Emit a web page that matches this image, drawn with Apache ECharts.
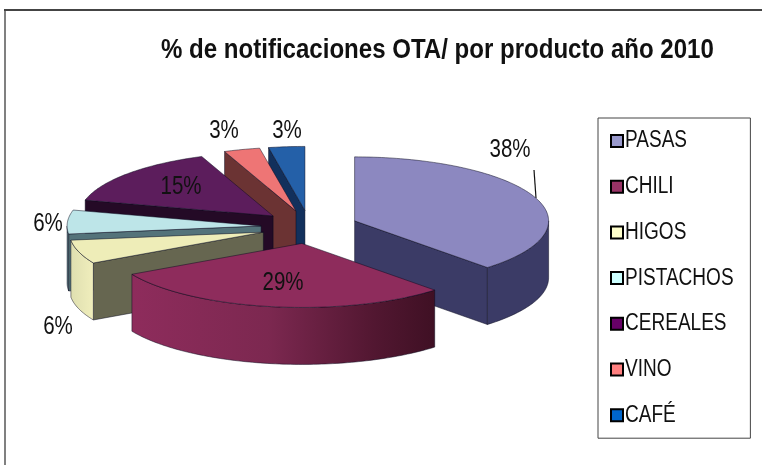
<!DOCTYPE html>
<html>
<head>
<meta charset="utf-8">
<style>
  html, body { margin: 0; padding: 0; background: #fff; }
  #main { width: 762px; height: 465px; }
</style>
</head>
<body>
<div id="main"></div>
<script src="https://cdn.jsdelivr.net/npm/echarts@6/dist/echarts.min.js"></script>
<script>
var titleText = '% de notificaciones OTA/ por producto año 2010';
var categories = ['PASAS', 'CHILI', 'HIGOS', 'PISTACHOS', 'CEREALES', 'VINO', 'CAFÉ'];
var values = [38, 29, 6, 6, 15, 3, 3];

// colores: leyenda, cara superior, paredes
var legendColors = ['#9999cc', '#993366', '#ffffcc', '#ccffff', '#660066', '#ff8080', '#0066cc'];
var topColors = ['#8c88c0', '#8e2c5c', '#eeedb8', '#bde5e8', '#5c1d5c', '#ee7575', '#2460a8'];
var wallColors = ['#3b3b66', '#3f1028', '#666650', '#54737a', '#240a26', '#6b3333', '#12305c'];
var rimStops = [
  [[0, '#3b3b66'], [1, '#3b3b66']],
  [[0, '#8e2c5c'], [0.45, '#7c2850'], [0.8, '#521731'], [1, '#3f1024']],
  [[0, '#dfdfb0'], [1, '#f0eebc']],
  [[0, '#54737a'], [1, '#54737a']],
  [[0, '#240a26'], [1, '#240a26']],
  [[0, '#6b3333'], [1, '#6b3333']],
  [[0, '#12305c'], [1, '#12305c']]
];
// orden de dibujo, de atrás hacia adelante
var drawOrder = [6, 5, 4, 3, 2, 0, 1];
// posición de las etiquetas de %
var labelPos = [[510, 150], [283, 283], [58, 327], [48, 224], [181, 187], [224, 131], [287, 131]];

var cx = 309.5, cy = 227, rx = 194, ry = 64, depth = 57, explodeX = 0.25, explodeY = 0.26;
var total = values.reduce(function (a, b) { return a + b; }, 0);

// no hay Arial Narrow instalada: se angosta la Liberation Sans
var narrow = 0.82;
var fontName = '"Liberation Sans", Arial, sans-serif';

function sliceAngles(i) {
  var s = 0;
  for (var k = 0; k < i; k++) s += values[k];
  return [s / total * Math.PI * 2, (s + values[i]) / total * Math.PI * 2];
}

function pt(c, t, dy) {
  return [c[0] + rx * Math.sin(t), c[1] - ry * Math.cos(t) + (dy || 0)];
}

function arcPoints(c, a, b, dy) {
  var pts = [], n = Math.max(2, Math.ceil((b - a) / 0.02));
  for (var k = 0; k <= n; k++) pts.push(pt(c, a + (b - a) * k / n, dy));
  return pts;
}

function poly(points, fill) {
  return {
    type: 'polygon',
    shape: { points: points },
    style: { fill: fill, stroke: 'rgba(10,10,30,0.7)', lineWidth: 0.7 }
  };
}

function face(c, t, fill) {
  var p = pt(c, t);
  return poly([c, p, [p[0], p[1] + depth], [c[0], c[1] + depth]], fill);
}

function renderSlice(i) {
  var a = sliceAngles(i), s = a[0], e = a[1], mid = (s + e) / 2;
  var c = [cx + rx * explodeX * Math.sin(mid), cy - ry * explodeY * Math.cos(mid)];
  var children = [];
  if (Math.sin(s) < -0.001) children.push(face(c, s, wallColors[i]));
  if (Math.sin(e) > 0.001) children.push(face(c, e, wallColors[i]));
  var r0 = Math.max(s, Math.PI / 2), r1 = Math.min(e, Math.PI * 1.5);
  if (r1 > r0) {
    var upper = arcPoints(c, r0, r1, 0), lower = arcPoints(c, r0, r1, depth).reverse();
    var xs = upper.map(function (p) { return p[0]; });
    children.push(poly(upper.concat(lower), {
      type: 'linear', global: true,
      x: Math.min.apply(null, xs), y: 0, x2: Math.max.apply(null, xs), y2: 0,
      colorStops: rimStops[i].map(function (st) { return { offset: st[0], color: st[1] }; })
    }));
  }
  children.push(poly([c].concat(arcPoints(c, s, e, 0)), topColors[i]));
  children.push({
    type: 'text', z2: 10,
    x: labelPos[i][0], y: labelPos[i][1], scaleX: narrow,
    style: {
      text: values[i] + '%', fill: '#111', font: '25px ' + fontName,
      align: 'center', verticalAlign: 'middle'
    }
  });
  return { type: 'group', children: children };
}

var chart = echarts.init(document.getElementById('main'));

var graphicItems = [
  { type: 'line', shape: { x1: 5, y1: 10, x2: 5, y2: 465 }, style: { stroke: '#808080', lineWidth: 2 } },
  { type: 'line', shape: { x1: 4, y1: 10, x2: 762, y2: 10 }, style: { stroke: '#444', lineWidth: 2 } },
  { type: 'line', shape: { x1: 534, y1: 170, x2: 536, y2: 198 }, style: { stroke: '#111', lineWidth: 1.2 } },
  {
    type: 'text', x: 161, y: 50, scaleX: 0.859,
    style: { text: titleText, fill: '#111', font: 'bold 28px ' + fontName, align: 'left', verticalAlign: 'middle' }
  }
];
// textos de la leyenda, angostados igual que el resto
categories.forEach(function (name, i) {
  graphicItems.push({
    type: 'text', x: 625, y: 141 + i * 45.7, scaleX: 0.81, z: 20,
    style: { text: name, fill: '#111', font: '23.5px ' + fontName, align: 'left', verticalAlign: 'middle' }
  });
});

var option = {
  animation: false,
  backgroundColor: '#fff',
  legend: {
    data: categories, orient: 'vertical', left: 598, top: 118,
    padding: [11.5, 116, 11.5, 12], itemGap: 22.7,
    itemWidth: 12, itemHeight: 12, icon: 'rect', selectedMode: false,
    formatter: function () { return ' '; },
    backgroundColor: '#fff', borderColor: '#444', borderWidth: 1,
    itemStyle: { borderColor: '#000', borderWidth: 2 },
    textStyle: { fontFamily: fontName, fontSize: 23, color: '#111' }
  },
  graphic: graphicItems,
  series: categories.map(function (name, i) {
    return {
      name: name,
      type: 'custom',
      coordinateSystem: 'none',
      z: 2 + drawOrder.indexOf(i),
      silent: true,
      itemStyle: { color: legendColors[i] },
      data: [values[i]],
      renderItem: function () { return renderSlice(i); }
    };
  })
};

chart.setOption(option);
</script>
</body>
</html>
